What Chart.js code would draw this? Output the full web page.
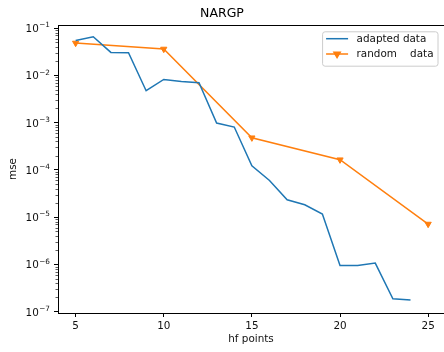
<!DOCTYPE html>
<html>
<head>
<meta charset="utf-8">
<script src="https://cdn.jsdelivr.net/npm/chart.js@4.4.1/dist/chart.umd.min.js"></script>
<style>
  html, body { margin: 0; padding: 0; background: #fff; }
  canvas { display: block; }
</style>
</head>
<body>
<canvas id="mseChart" width="444" height="352"></canvas>
<script>
// values
const adaptedHf = [5, 6, 7, 8, 9, 10, 11, 12, 13, 14, 15, 16, 17, 18, 19, 20, 21, 22, 23, 24];
const adaptedMse = [0.0547, 0.0655, 0.0305, 0.0300, 0.00472, 0.00818, 0.00743, 0.00697, 0.00098, 0.000805,
  0.000122, 0.0000598, 0.0000233, 0.0000183, 0.0000116, 9.5e-7, 9.5e-7, 1.07e-6, 1.88e-7, 1.77e-7];
const randomHf = [5, 10, 15, 20, 25];
const randomMse = [0.0482, 0.036, 0.000478, 0.000164, 0.00000715];

const xTickValues = [5, 10, 15, 20, 25];
const yTickValues = [1e-7, 1e-6, 1e-5, 1e-4, 1e-3, 1e-2, 1e-1];
const yTickExponents = ['−7', '−6', '−5', '−4', '−3', '−2', '−1'];

const FONT = 'DejaVu Sans';
const tickFont = { family: FONT, size: 10.4 };

// top spine, minor ticks and 10^n labels on the log axis
const spinesPlugin = {
  id: 'spines',
  afterDraw(chart) {
    const { ctx, chartArea } = chart;
    const y = chart.scales.y;
    ctx.save();
    ctx.strokeStyle = '#000';
    ctx.lineWidth = 1;
    ctx.beginPath();
    ctx.moveTo(chartArea.left, Math.round(chartArea.top) + 0.5);
    ctx.lineTo(chartArea.right, Math.round(chartArea.top) + 0.5);
    ctx.stroke();

    ctx.strokeStyle = '#333';
    ctx.lineWidth = 0.8;
    ctx.beginPath();
    for (let d = -8; d <= 0; d++) {
      for (let k = 2; k <= 9; k++) {
        const v = k * Math.pow(10, d);
        if (v < y.min || v > y.max) continue;
        const py = Math.round(y.getPixelForValue(v)) + 0.5;
        ctx.moveTo(chartArea.left - 2.5, py);
        ctx.lineTo(chartArea.left, py);
      }
    }
    ctx.stroke();

    // labels like matplotlib mathtext: "10" with a raised exponent
    ctx.fillStyle = '#111';
    ctx.textAlign = 'right';
    ctx.textBaseline = 'middle';
    const xr = chartArea.left - 8;
    yTickValues.forEach((v, i) => {
      const py = y.getPixelForValue(v);
      ctx.font = '7.3px "' + FONT + '"';
      const supW = ctx.measureText(yTickExponents[i]).width;
      ctx.fillText(yTickExponents[i], xr, py - 2.6);
      ctx.font = '10.4px "' + FONT + '"';
      ctx.fillText('10', xr - supW - 0.5, py + 1.2);
    });
    ctx.restore();
  }
};

// matplotlib-like legend box in the upper right corner
const boxLegendPlugin = {
  id: 'boxLegend',
  afterDraw(chart) {
    const { ctx, chartArea } = chart;
    const sets = chart.data.datasets;
    ctx.save();
    ctx.font = '10.4px "' + FONT + '"';
    const textW = Math.max(...sets.map(ds => ctx.measureText(ds.label).width));
    const pad = 4, handle = 22, gap = 8.5, rowH = 15.3;
    const w = pad + handle + gap + textW + 4;
    const h = 34.4;
    const left = 437.5 - w;
    const top = chartArea.top + 6.3;

    ctx.fillStyle = 'rgba(255,255,255,0.8)';
    ctx.strokeStyle = '#cccccc';
    ctx.lineWidth = 1;
    ctx.beginPath();
    ctx.roundRect(left + 0.5, top + 0.5, w, h, 2.5);
    ctx.fill();
    ctx.stroke();

    sets.forEach((ds, i) => {
      const cy = top + 7.4 + i * rowH;
      const x0 = left + pad;
      ctx.strokeStyle = ds.borderColor;
      ctx.lineWidth = ds.borderWidth;
      ctx.beginPath();
      ctx.moveTo(x0, cy);
      ctx.lineTo(x0 + handle, cy);
      ctx.stroke();
      if (ds.pointRadius > 0) {
        ctx.fillStyle = ds.pointBackgroundColor;
        ctx.strokeStyle = ds.pointBorderColor;
        Chart.helpers.drawPoint(ctx, {
          pointStyle: ds.pointStyle,
          rotation: ds.pointRotation,
          radius: ds.pointRadius,
          borderWidth: ds.pointBorderWidth
        }, x0 + handle / 2, cy);
      }
      ctx.fillStyle = '#111';
      ctx.textBaseline = 'middle';
      ctx.textAlign = 'left';
      ctx.fillText(ds.label, x0 + handle + gap, cy + 0.5);
    });
    ctx.restore();
  }
};

new Chart(document.getElementById('mseChart'), {
  type: 'line',
  data: {
    datasets: [{
      label: 'adapted data',
      data: adaptedHf.map((x, i) => ({ x: x, y: adaptedMse[i] })),
      borderColor: '#1f77b4',
      backgroundColor: '#1f77b4',
      borderWidth: 1.5,
      pointRadius: 0,
      tension: 0,
      fill: false
    }, {
      label: 'random    data',
      data: randomHf.map((x, i) => ({ x: x, y: randomMse[i] })),
      borderColor: '#ff7f0e',
      backgroundColor: '#ff7f0e',
      borderWidth: 1.5,
      pointStyle: 'triangle',
      pointRotation: 180,
      pointRadius: 3.6,
      pointBackgroundColor: '#ff7f0e',
      pointBorderColor: '#ff7f0e',
      pointBorderWidth: 1,
      tension: 0,
      fill: false
    }]
  },
  options: {
    responsive: false,
    animation: false,
    devicePixelRatio: 1,
    layout: { padding: 0, autoPadding: false },
    plugins: {
      legend: { display: false },
      tooltip: { enabled: false },
      title: {
        display: true,
        text: 'NARGP',
        color: '#000',
        font: { family: FONT, size: 12.5, weight: 'normal' },
        padding: { top: 6, bottom: 4 }
      }
    },
    scales: {
      x: {
        type: 'linear',
        min: 4.0,
        max: 25.9,
        afterBuildTicks: s => { s.ticks = xTickValues.map(v => ({ value: v })); },
        afterFit: s => { s.height = 39; s.paddingLeft = 0; s.paddingRight = 0; },
        ticks: { font: tickFont, color: '#111', padding: 3.5, autoSkip: false, maxRotation: 0 },
        grid: { drawOnChartArea: false, tickLength: 4, tickColor: '#000' },
        border: { color: '#000', width: 1 },
        title: {
          display: true,
          text: 'hf points',
          color: '#111',
          font: tickFont,
          padding: { top: 0, bottom: 6 }
        }
      },
      y: {
        type: 'logarithmic',
        min: 9.4e-8,
        max: 0.116,
        afterBuildTicks: s => { s.ticks = yTickValues.map(v => ({ value: v })); },
        afterFit: s => { s.width = 58; },
        ticks: {
          font: tickFont,
          color: 'rgba(0,0,0,0)',
          padding: 4,
          autoSkip: false,
          callback: () => '10'
        },
        grid: { drawOnChartArea: false, tickLength: 4, tickColor: '#000' },
        border: { color: '#000', width: 1 },
        title: {
          display: true,
          text: 'mse',
          color: '#111',
          font: tickFont,
          padding: { top: 7, bottom: 0 }
        }
      }
    }
  },
  plugins: [spinesPlugin, boxLegendPlugin]
});
</script>
</body>
</html>
